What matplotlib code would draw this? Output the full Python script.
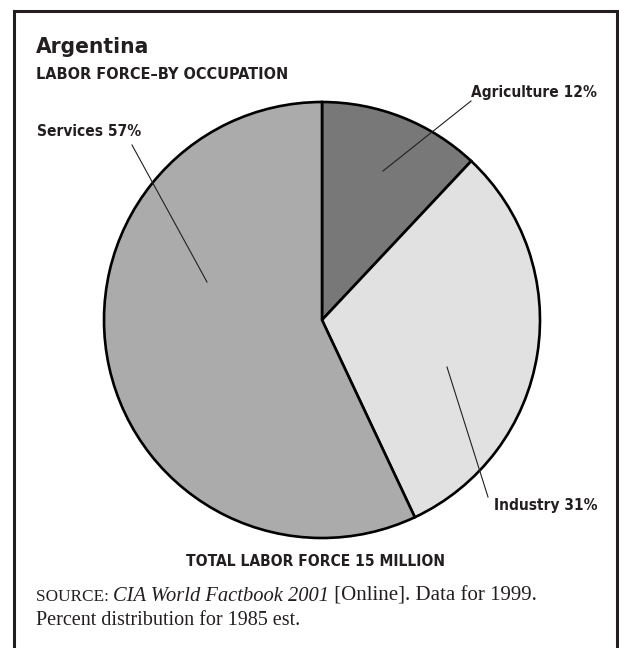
import matplotlib
matplotlib.use("Agg")
import matplotlib.pyplot as plt

# labor force shares, 1985 est.
sectors = ["Agriculture", "Industry", "Services"]
shares = [12, 31, 57]
colors = ["#787878", "#e1e1e1", "#ababab"]

title = "Argentina"
subtitle = "LABOR FORCE\u2013BY OCCUPATION"
total_note = "TOTAL LABOR FORCE 15 MILLION"

ink = "#231f20"
sans = ["DejaVu Sans"]
serif = ["Liberation Serif", "DejaVu Serif"]

W, H = 619, 648
fig = plt.figure(figsize=(W / 100, H / 100), dpi=100)
ax = fig.add_axes([0, 0, 1, 1])

# y axis runs downward (pixel-style), so counterclock=True turns clockwise on screen
cx, cy, r = 322, 320, 218
ax.pie(shares, colors=colors, startangle=-90, counterclock=True,
       center=(cx, cy), radius=r,
       wedgeprops=dict(edgecolor="black", linewidth=1.9))
ax.set_xlim(0, W)
ax.set_ylim(H, 0)
ax.set_aspect("auto")
ax.axis("off")

# frame (open at the bottom)
ax.plot([14, 14, 617, 617], [H + 5, 11, 11, H + 5], color=ink, lw=2.2,
        solid_joinstyle="miter", clip_on=False)

bold = dict(family=sans, weight="bold", stretch="condensed", color=ink,
            va="baseline")
ax.text(36, 53, title, fontsize=16.2, **bold)
ax.text(36, 79, subtitle, fontsize=11.6, **bold)

# slice labels with leader lines
ax.text(597, 97, f"{sectors[0]} {shares[0]}%", ha="right", fontsize=11.1, **bold)
ax.plot([383, 471], [171, 101], color=ink, lw=0.8)
ax.text(597, 510, f"{sectors[1]} {shares[1]}%", ha="right", fontsize=11.1, **bold)
ax.plot([447, 488], [367, 497], color=ink, lw=0.8)
ax.text(37, 136, f"{sectors[2]} {shares[2]}%", fontsize=11.1, **bold)
ax.plot([132, 207], [145, 282], color=ink, lw=0.8)

ax.text(316, 566, total_note, ha="center", fontsize=11.2, **bold)

# source note, pieced together run by run
fig.canvas.draw()
rend = fig.canvas.get_renderer()
inv = ax.transData.inverted()
runs = [("SOURCE: ", dict(fontsize=12.4)),
        ("CIA World Factbook 2001", dict(fontsize=14.8, style="italic")),
        (" [Online]. Data for 1999.", dict(fontsize=15.0))]
x = 36
for s, kw in runs:
    t = ax.text(x, 601, s, family=serif, color=ink, va="baseline", **kw)
    bb = t.get_window_extent(renderer=rend)
    x = inv.transform((bb.x1, bb.y0))[0]
ax.text(36, 625, "Percent distribution for 1985 est.", family=serif, color=ink,
        fontsize=14.5, va="baseline")

fig.savefig("out.png", dpi=100)
